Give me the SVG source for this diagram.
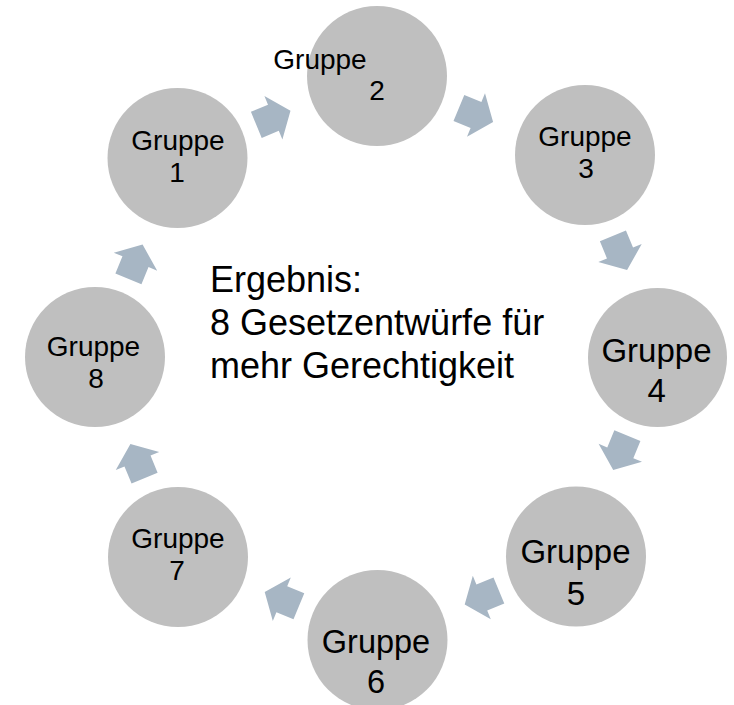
<svg xmlns="http://www.w3.org/2000/svg" width="734" height="705" viewBox="0 0 734 705">
  <style>
    .node { fill: #BFBFBF; }
    .arrow { fill: #A7B6C4; }
    text { font-family: "Liberation Sans", Arial, sans-serif; fill: #000; }
    .s { font-size: 28px; text-anchor: middle; }
    .l { font-size: 33px; text-anchor: middle; }
    .c { font-size: 36px; }
  </style>
  <defs>
    <path id="arr" d="M-18.5,-14.1 L0,-14.1 L0,-23.5 L18.5,0 L0,23.5 L0,14.1 L-18.5,14.1 Z"/>
  </defs>
  <rect width="734" height="705" fill="#FFFFFF"/>

  <g id="connectors" class="arrow">
    <use href="#arr" transform="translate(273.4,117.8) rotate(-22.5)"/>
    <use href="#arr" transform="translate(476,115) rotate(22.5)"/>
    <use href="#arr" transform="translate(620,253) rotate(67.5)"/>
    <use href="#arr" transform="translate(620.3,452.8) rotate(112.5)"/>
    <use href="#arr" transform="translate(481.8,597.5) rotate(157.5)"/>
    <use href="#arr" transform="translate(281.8,599.2) rotate(202.5)"/>
    <use href="#arr" transform="translate(137.5,461) rotate(247.5)"/>
    <use href="#arr" transform="translate(135.5,261.7) rotate(292.5)"/>
  </g>

  <g id="node1">
    <circle class="node" cx="177.5" cy="158" r="70"/>
    <text class="s" x="178" y="150">Gruppe</text>
    <text class="s" x="177" y="182">1</text>
  </g>
  <g id="node2">
    <circle class="node" cx="377" cy="76" r="70"/>
    <text class="s" x="320" y="68.5">Gruppe</text>
    <text class="s" x="377" y="99.5">2</text>
  </g>
  <g id="node3">
    <circle class="node" cx="585" cy="155" r="70"/>
    <text class="s" x="585" y="146">Gruppe</text>
    <text class="s" x="586" y="178">3</text>
  </g>
  <g id="node4">
    <circle class="node" cx="657.5" cy="357.5" r="69.5"/>
    <text class="l" x="656.5" y="362">Gruppe</text>
    <text class="l" x="656.7" y="402">4</text>
  </g>
  <g id="node5">
    <circle class="node" cx="576" cy="556.5" r="70"/>
    <text class="l" x="575.5" y="563">Gruppe</text>
    <text class="l" x="576" y="605">5</text>
  </g>
  <g id="node6">
    <circle class="node" cx="377.5" cy="640" r="70"/>
    <text class="l" x="376" y="653" style="font-size:32.5px">Gruppe</text>
    <text class="l" x="376" y="693" style="font-size:32.5px">6</text>
  </g>
  <g id="node7">
    <circle class="node" cx="178" cy="557" r="70"/>
    <text class="s" x="178" y="548">Gruppe</text>
    <text class="s" x="177" y="580">7</text>
  </g>
  <g id="node8">
    <circle class="node" cx="95" cy="357" r="70"/>
    <text class="s" x="93.5" y="356">Gruppe</text>
    <text class="s" x="96" y="387.5">8</text>
  </g>

  <g id="result">
    <text class="c" x="210" y="292">Ergebnis:</text>
    <text class="c" x="210" y="335">8 Gesetzentwürfe für</text>
    <text class="c" x="210" y="378">mehr Gerechtigkeit</text>
  </g>
</svg>
